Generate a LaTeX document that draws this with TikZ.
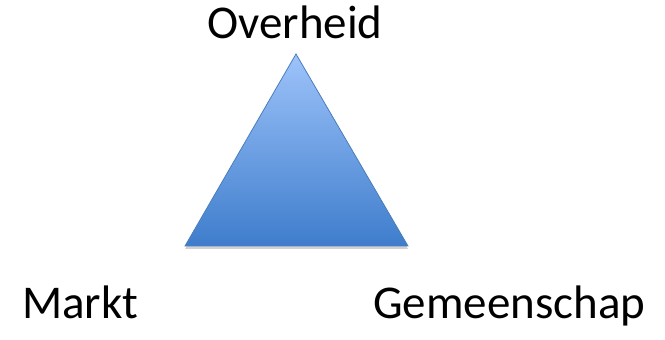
\documentclass[tikz,border=0pt]{standalone}
\usepackage{fontspec}
\setmainfont{Carlito}
\usetikzlibrary{shadows}
\definecolor{triTop}{HTML}{9EC3FA}
\definecolor{triBot}{HTML}{3E7DCC}
\definecolor{triEdge}{HTML}{4A7EBB}
\tikzset{
  lbl/.style={inner sep=0pt, font=\fontsize{47pt}{51pt}\selectfont, text=black},
  tri/.style={draw=triEdge, line width=0.8pt, top color=triTop, bottom color=triBot, line join=miter,
    drop shadow={shadow xshift=0pt, shadow yshift=-3pt, opacity=0.3, fill=black!60}}
}
\begin{document}
\begin{tikzpicture}[x=1pt,y=1pt]
\useasboundingbox (0,0) rectangle (665,340);
\coordinate (apex) at (296,286);
\coordinate (bl) at (185,94);
\coordinate (br) at (408,94);
\path[tri] (apex) -- (br) -- (bl) -- cycle;
\node[lbl, anchor=base] (overheid) at (295,301) {Overheid};
\node[lbl, anchor=base west] (markt) at (22,21) {Markt};
\node[lbl, anchor=base west] (gemeenschap) at (373,21) {Gemeenschap};
\end{tikzpicture}
\end{document}
